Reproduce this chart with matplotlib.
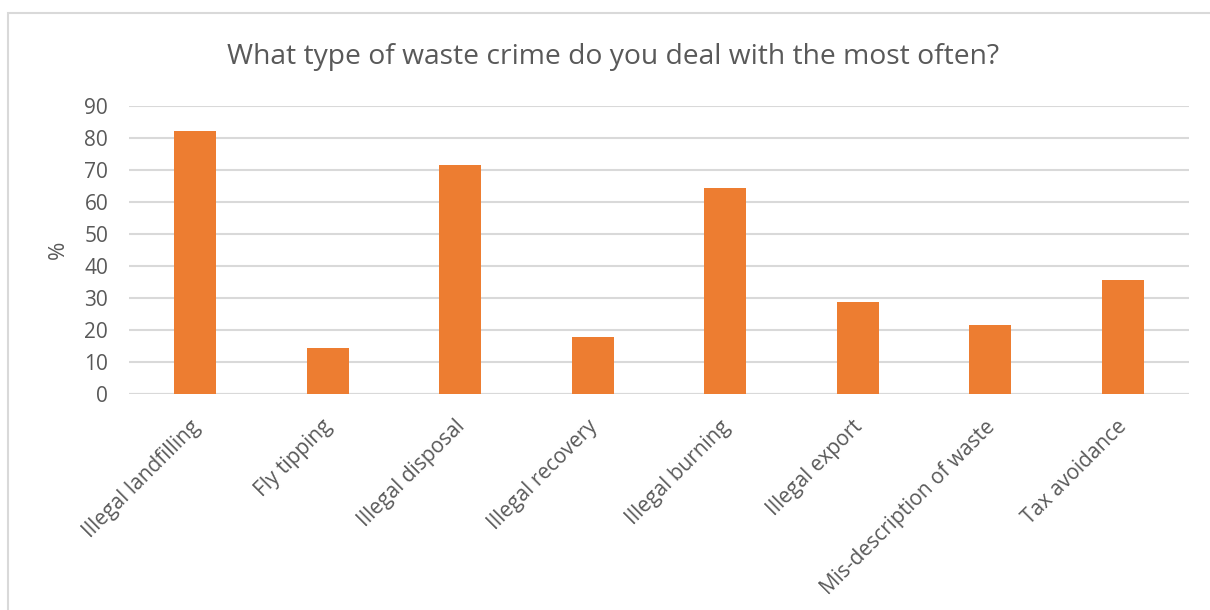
import matplotlib
matplotlib.use("Agg")
import matplotlib.pyplot as plt
from matplotlib.patches import Rectangle
from matplotlib.transforms import ScaledTranslation

categories = ["Illegal landfilling", "Fly tipping", "Illegal disposal", "Illegal recovery",
              "Illegal burning", "Illegal export", "Mis-description of waste", "Tax avoidance"]
percent = [82.1, 14.3, 71.4, 17.9, 64.3, 28.6, 21.4, 35.7]
yticks = [0, 10, 20, 30, 40, 50, 60, 70, 80, 90]

txt = "#595959"
grid = "#D9D9D9"
plt.rcParams["font.family"] = ["Open Sans", "DejaVu Sans"]

W, H = 1210, 610
fig = plt.figure(figsize=(W / 100, H / 100), dpi=100)

# chart frame, runs off the right and bottom edges
fig.patches.append(Rectangle((8 / W, -0.05), 1.1, (H - 13.5) / H + 0.05, transform=fig.transFigure,
                             fill=False, edgecolor=grid, linewidth=1.5))

ax = fig.add_axes([129 / W, (H - 394) / H, (1189 - 129) / W, (394 - 105.7) / H])
x = list(range(len(categories)))
ax.bar(x, percent, width=0.317, color="#ED7D31", zorder=3)
ax.set_xlim(-0.5, len(categories) - 0.5)
ax.set_ylim(0, 90)
ax.set_yticks(yticks)
ax.yaxis.grid(True, color=grid, linewidth=1.5, zorder=0)
for s in ax.spines.values():
    s.set_visible(False)
ax.axhline(0, color=grid, linewidth=1.5, zorder=1)
ax.tick_params(axis="both", length=0, labelsize=15, labelcolor=txt)
ax.tick_params(axis="y", pad=15)
ax.set_xticks(x)
ax.set_xticklabels(categories, rotation=45, ha="right", va="top", rotation_mode="anchor")
ax.tick_params(axis="x", pad=16)
# nudge the slanted labels a little to the left
shift = ScaledTranslation(-0.06, 0, fig.dpi_scale_trans)
for lab in ax.get_xticklabels():
    lab.set_transform(lab.get_transform() + shift)

fig.text(58 / W, (H - 250) / H, "%", rotation=90, fontsize=16, color=txt, ha="center", va="center")
fig.text(613 / W, (H - 57) / H, "What type of waste crime do you deal with the most often?",
         fontsize=20.3, color=txt, ha="center", va="center")

fig.savefig("out.png", dpi=100)
